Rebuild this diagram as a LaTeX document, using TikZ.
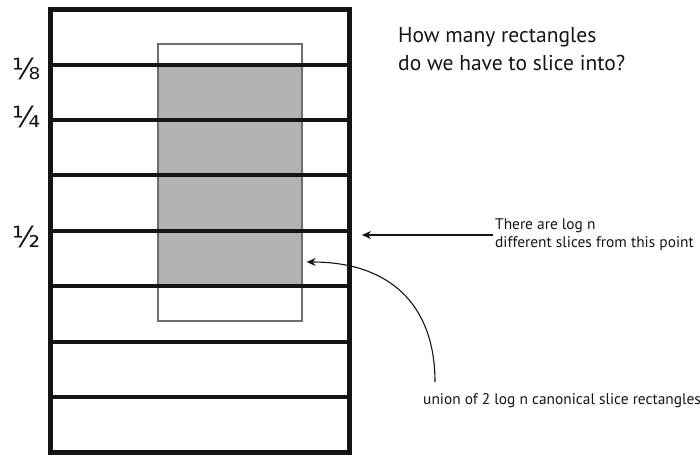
\documentclass[tikz,border=0pt]{standalone}
\usepackage{fontspec}
\setmainfont{PT Sans}
\newfontfamily\fracfont{DejaVu Sans}
\usetikzlibrary{arrows.meta,calc}
\definecolor{inkBlack}{RGB}{20,20,20}
\definecolor{bandGray}{RGB}{179,179,179}
\definecolor{edgeGray}{RGB}{110,110,110}
\tikzset{
  board/.style={draw=inkBlack, line width=4.5pt, minimum width=299pt, minimum height=443pt, inner sep=0pt},
  sliceline/.style={draw=inkBlack, line width=4pt},
  band/.style={fill=bandGray, draw=none, minimum width=144pt, minimum height=221.6pt, inner sep=0pt},
  query/.style={draw=edgeGray, line width=1.3pt, minimum width=144pt, minimum height=277pt, inner sep=0pt},
  frac/.style={font=\fracfont\fontsize{29}{29}\selectfont, text=inkBlack, inner sep=0pt},
  heading/.style={align=left, anchor=north west, inner sep=0pt, text=inkBlack, font=\fontsize{21.5}{28}\selectfont},
  note/.style={align=left, inner sep=2pt, text=inkBlack, font=\fontsize{15.4}{18}\selectfont},
  pointer/.style={-{Stealth[length=9pt,width=8pt]}, draw=inkBlack, line width=1.1pt}
}

\begin{document}
\begin{tikzpicture}[x=1pt,y=-1pt]
  \useasboundingbox (0,0) rectangle (700,455);

  % shaded range and query rectangle
  \node[band] (covered) at (230,175.4) {};
  \node[query] (range) at (230,182.5) {};

  % the strips
  \foreach \k in {1,...,7}{
    \draw[sliceline] (50.5,{9.2+55.4*\k}) -- (349.5,{9.2+55.4*\k});
  }
  \node[board] (stack) at (200,230.9) {};

  % fractions on the left
  \node[frac] (eighth) at (27,68.5) {⅛};
  \node[frac] (quarter) at (27,116.5) {¼};
  \node[frac] (half) at (27,236.5) {½};

  \node[heading] (question) at (398,27) {How many rectangles\\do we have to slice into?};

  \node[note, anchor=west] (logn) at (493,235) {There are log n\\different slices from this point};
  \coordinate (slicepoint) at (362,235);
  \draw[pointer] (logn.west) -- (slicepoint);

  \node[note, anchor=base west] (union) at (421,404) {union of 2 log n canonical slice rectangles};
  \coordinate (uptip) at ($(range.east)+(4,79.5)$);
  \coordinate (upstart) at (435,382);
  \draw[pointer] (upstart) .. controls (435,305) and (390,262) .. (uptip);
\end{tikzpicture}
\end{document}
